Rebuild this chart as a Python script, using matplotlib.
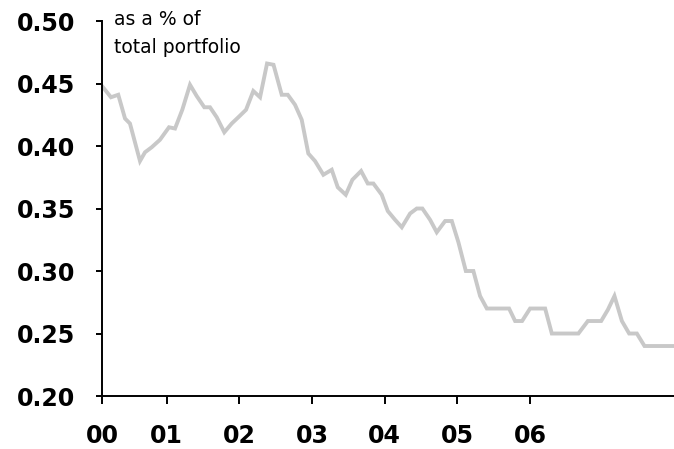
import matplotlib.pyplot as plt

years = [2000.124, 2000.234, 2000.334, 2000.427, 2000.495, 2000.633, 2000.702,
         2000.794, 2000.908, 2001.032, 2001.115, 2001.215, 2001.321, 2001.413,
         2001.518, 2001.596, 2001.689, 2001.793, 2001.895, 2001.986, 2002.092,
         2002.192, 2002.285, 2002.381, 2002.470, 2002.583, 2002.666, 2002.766,
         2002.858, 2002.949, 2003.041, 2003.156, 2003.271, 2003.354, 2003.464,
         2003.555, 2003.675, 2003.767, 2003.844, 2003.959, 2004.042, 2004.142,
         2004.235, 2004.349, 2004.441, 2004.518, 2004.624, 2004.716, 2004.831,
         2004.923, 2005.014, 2005.116, 2005.220, 2005.312, 2005.405, 2005.711,
         2005.794, 2005.890, 2006.000, 2006.207, 2006.299, 2006.665, 2006.795,
         2006.978, 2007.070, 2007.161, 2007.263, 2007.363, 2007.469, 2007.574,
         2007.990]
share = [0.447, 0.439, 0.441, 0.422, 0.418, 0.388, 0.395,
         0.399, 0.405, 0.415, 0.414, 0.429, 0.449, 0.440,
         0.431, 0.431, 0.423, 0.411, 0.418, 0.423, 0.429,
         0.444, 0.439, 0.466, 0.465, 0.441, 0.441, 0.433,
         0.421, 0.394, 0.388, 0.377, 0.381, 0.367, 0.361,
         0.373, 0.380, 0.370, 0.370, 0.361, 0.348, 0.341,
         0.335, 0.346, 0.350, 0.350, 0.341, 0.331, 0.340,
         0.340, 0.323, 0.300, 0.300, 0.280, 0.270, 0.270,
         0.260, 0.260, 0.270, 0.270, 0.250, 0.250, 0.260,
         0.260, 0.269, 0.280, 0.260, 0.250, 0.250, 0.240,
         0.240]

year_labels = ["00", "01", "02", "03", "04", "05", "06"]
year_ticks = [2000.11, 2001, 2002, 2003, 2004, 2005, 2006]

fig = plt.figure(figsize=(6.74, 4.49), dpi=100)
ax = fig.add_axes([0.1513, 0.118, 0.8487, 0.8352])

ax.plot(years, share, color="#c8c8c8", linewidth=2.8, solid_joinstyle="miter")

ax.set_xlim(2000.11, 2007.98)
ax.set_ylim(0.20, 0.50)
ax.set_yticks([0.20, 0.25, 0.30, 0.35, 0.40, 0.45, 0.50])
ax.set_yticklabels(["0.20", "0.25", "0.30", "0.35", "0.40", "0.45", "0.50"])
ax.set_xticks(year_ticks)
ax.set_xticklabels(year_labels)

for s in ["top", "right"]:
    ax.spines[s].set_visible(False)
for s in ["left", "bottom"]:
    ax.spines[s].set_linewidth(1.4)
    ax.spines[s].set_clip_on(False)

ax.tick_params(axis="both", direction="out", width=1.4, labelsize=17)
ax.tick_params(axis="x", length=6, pad=14)
ax.tick_params(axis="y", length=4.5, pad=15)
for lbl in ax.get_xticklabels() + ax.get_yticklabels():
    lbl.set_fontweight("bold")

fig.text(0.169, 0.944, "as a % of", fontsize=13.5, va="baseline", ha="left")
fig.text(0.169, 0.883, "total portfolio", fontsize=13.5, va="baseline", ha="left")

fig.savefig("out.png", dpi=100)
